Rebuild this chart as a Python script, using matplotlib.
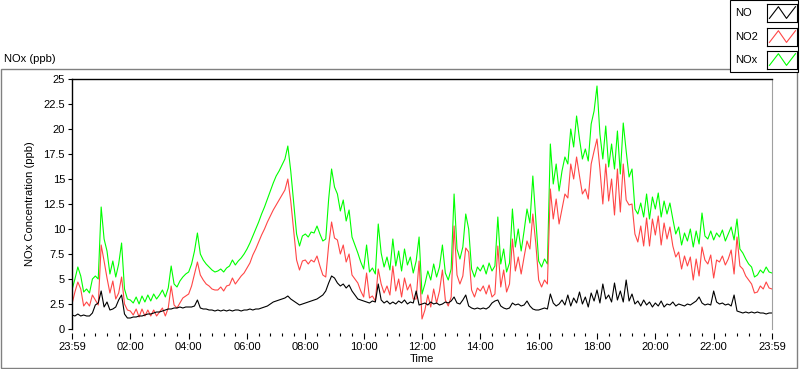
import numpy as np
import matplotlib.pyplot as plt
from matplotlib.patches import Rectangle

plt.rcParams['font.family'] = ['Liberation Sans', 'DejaVu Sans']
plt.rcParams['font.size'] = 8

# readings every 6 minutes, 23:59 -> 23:59 (ppb); one row per hour
no_ppb = [
    1.4, 1.3, 1.5, 1.3, 1.4, 1.3, 1.3, 1.6, 2.4, 2.6,
    3.8, 2.2, 2.7, 1.9, 2.0, 2.2, 2.9, 3.4, 1.5, 1.1,
    1.1, 1.2, 1.2, 1.3, 1.3, 1.4, 1.5, 1.5, 1.6, 1.7,
    1.7, 1.8, 1.9, 2.0, 2.0, 2.1, 2.1, 2.2, 2.1, 2.2,
    2.2, 2.2, 2.3, 2.9, 2.1, 2.0, 2.0, 1.9, 1.9, 1.8,
    1.9, 1.8, 1.9, 1.8, 1.9, 1.8, 1.9, 1.9, 1.8, 1.9,
    1.9, 2.0, 1.9, 2.0, 2.0, 2.1, 2.2, 2.3, 2.5, 2.7,
    2.8, 2.9, 3.0, 3.1, 3.3, 3.0, 2.8, 2.6, 2.4, 2.5,
    2.6, 2.7, 2.8, 2.9, 3.0, 3.2, 3.4, 3.8, 4.6, 5.3,
    5.1, 4.6, 4.3, 4.5, 4.1, 4.4, 3.8, 3.4, 3.0, 2.9,
    2.8, 2.7, 2.6, 2.8, 2.7, 4.5, 2.9, 2.6, 2.8, 2.5,
    2.7, 2.5, 2.8, 2.6, 2.9, 2.5, 2.7, 2.6, 3.8, 2.4,
    2.5, 2.6, 2.4, 2.7, 2.5, 2.6, 2.4, 2.5, 2.7, 2.6,
    2.8, 3.2, 2.6, 2.5, 2.9, 3.4, 2.3, 2.1, 2.0, 2.1,
    2.0, 2.1, 2.0, 2.2, 2.6, 2.8, 2.9, 2.3, 2.1, 2.0,
    2.1, 2.6, 2.4, 2.5, 2.3, 2.4, 2.8, 2.3, 2.0, 1.9,
    1.9, 2.0, 2.1, 2.0, 3.5, 2.6, 2.3, 2.5, 2.9, 2.4,
    3.4, 2.3, 3.1, 2.6, 3.7, 2.5, 3.2, 2.2, 3.6, 2.8,
    3.9, 2.6, 4.5, 3.0, 3.4, 2.7, 4.6, 2.9, 3.8, 2.7,
    4.9, 2.8, 3.5, 2.5, 2.8, 2.3, 2.9, 2.4, 2.7, 2.2,
    2.6, 2.3, 2.8, 2.2, 2.5, 2.4, 2.7, 2.3, 2.5, 2.4,
    2.3, 2.5, 2.4, 2.6, 2.8, 3.2, 2.6, 2.4, 2.5, 2.4,
    3.8, 2.7, 2.5, 2.6, 2.4, 2.5, 2.3, 3.4, 1.8, 1.7,
    1.6, 1.7, 1.6, 1.7, 1.6, 1.7, 1.6, 1.6, 1.5, 1.6,
    1.6,
]

no2_ppb = [
    2.5, 3.7, 4.7, 4.0, 2.3, 2.7, 2.3, 3.4, 2.9, 2.4,
    8.4, 6.8, 5.1, 3.6, 4.8, 3.0, 3.6, 5.2, 2.5, 1.9,
    1.8, 1.4, 2.0, 1.2, 2.0, 1.3, 1.9, 1.3, 1.9, 1.3,
    1.7, 2.1, 1.3, 2.1, 4.3, 2.4, 2.1, 2.6, 3.1, 3.3,
    3.5, 4.3, 5.5, 6.7, 5.4, 4.9, 4.5, 4.3, 4.0, 3.9,
    3.9, 4.2, 3.8, 4.3, 4.4, 5.1, 4.5, 4.9, 5.3, 5.6,
    6.1, 6.6, 7.4, 8.0, 8.7, 9.4, 10.0, 10.7, 11.3, 11.9,
    12.4, 12.9, 13.4, 13.9, 15.0, 12.8, 9.8, 6.9, 5.9, 6.8,
    6.9, 6.5, 6.9, 6.7, 7.3, 6.3, 5.4, 5.2, 8.4, 10.7,
    9.1, 8.9, 7.5, 8.4, 6.7, 7.5, 5.4, 5.0, 4.6, 3.8,
    3.2, 5.6, 3.1, 3.3, 2.8, 6.0, 4.5, 3.6, 4.3, 3.4,
    6.3, 3.8, 5.0, 3.2, 5.1, 3.9, 4.5, 3.0, 3.0, 6.8,
    1.0, 1.9, 3.4, 2.2, 4.0, 2.6, 3.8, 5.9, 2.9, 2.3,
    3.2, 10.3, 5.4, 4.5, 5.3, 8.1, 7.7, 3.9, 3.2, 4.1,
    3.8, 4.3, 3.5, 4.4, 3.2, 3.5, 8.3, 4.2, 5.9, 3.7,
    4.5, 9.0, 5.8, 7.2, 5.5, 7.2, 8.8, 8.0, 11.5, 8.6,
    4.9, 4.2, 4.9, 4.5, 14.0, 11.0, 13.0, 10.5, 12.0, 13.5,
    13.1, 16.5, 15.0, 17.2, 15.3, 13.5, 14.0, 13.0, 16.5, 17.8,
    19.0, 16.0, 12.5, 16.5, 12.8, 15.0, 11.4, 16.0, 11.7, 16.5,
    12.9, 12.4, 12.5, 9.5, 8.7, 10.3, 8.3, 11.1, 8.3, 11.0,
    9.4, 11.3, 8.4, 10.6, 9.0, 10.2, 8.3, 7.2, 7.7, 6.0,
    7.3, 6.3, 7.2, 4.9, 7.0, 5.3, 8.2, 6.9, 6.5, 7.4,
    5.1, 6.9, 6.7, 7.3, 6.4, 7.0, 7.9, 5.5, 9.2, 6.3,
    6.0, 5.3, 4.9, 4.5, 3.6, 3.7, 4.3, 4.0, 4.7, 4.1,
    4.0,
]

nox_ppb = [
    3.9, 5.0, 6.2, 5.3, 3.7, 4.0, 3.6, 5.0, 5.3, 5.0,
    12.2, 9.0, 7.8, 5.5, 6.8, 5.2, 6.5, 8.6, 4.0, 3.0,
    2.9, 2.6, 3.2, 2.5, 3.3, 2.7, 3.4, 2.8, 3.5, 3.0,
    3.4, 3.9, 3.2, 4.1, 6.3, 4.5, 4.2, 4.8, 5.2, 5.5,
    5.7, 6.5, 7.8, 9.6, 7.5, 6.9, 6.5, 6.2, 5.9, 5.7,
    5.8, 6.0, 5.7, 6.1, 6.3, 6.9, 6.4, 6.8, 7.1, 7.5,
    8.0, 8.6, 9.3, 10.0, 10.7, 11.5, 12.2, 13.0, 13.8, 14.6,
    15.3, 15.8, 16.4, 17.0, 18.3, 15.8, 12.7, 9.5, 8.3, 9.3,
    9.5, 9.2, 9.7, 9.6, 10.3, 9.5, 8.8, 9.0, 13.0, 16.0,
    14.2, 13.5, 11.8, 12.9, 10.8, 11.9, 9.2, 8.4, 7.6, 6.7,
    6.0, 8.4, 5.7, 6.1, 5.5, 10.5, 7.6, 6.2, 7.2, 5.9,
    9.0, 6.3, 7.8, 5.8, 8.0, 6.4, 7.2, 5.6, 6.8, 9.2,
    3.5, 4.5, 5.8, 4.9, 6.5, 5.2, 6.2, 8.4, 5.6, 4.9,
    6.0, 13.5, 8.0, 7.0, 8.2, 11.5, 10.0, 6.0, 5.2, 6.2,
    5.8, 6.4, 5.5, 6.6, 5.8, 6.3, 11.2, 6.5, 8.0, 5.7,
    6.6, 12.0, 8.2, 10.0, 7.8, 9.8, 12.0, 10.6, 15.3, 11.0,
    6.8, 6.2, 7.0, 6.5, 18.5, 14.5, 16.5, 13.8, 15.8, 17.2,
    16.5, 20.0, 18.2, 21.3, 19.0, 17.0, 18.0, 16.8, 20.5, 21.8,
    24.3, 19.5, 17.0, 20.3, 16.2, 18.5, 16.0, 19.8, 15.5, 20.6,
    17.8, 15.2, 16.0, 12.0, 11.5, 12.6, 11.2, 13.5, 11.0, 13.2,
    12.0, 13.6, 11.2, 12.8, 11.5, 12.6, 11.0, 9.5, 10.2, 8.4,
    9.6, 8.8, 10.0, 8.2, 9.8, 8.5, 11.6, 9.3, 9.0, 9.8,
    8.9, 9.6, 9.2, 9.9, 8.8, 9.5, 10.2, 8.9, 11.0, 8.0,
    7.6, 7.0, 6.5, 6.2, 5.2, 5.4, 5.9, 5.6, 6.2, 5.7,
    5.6,
]

hours = np.arange(len(no_ppb)) * 0.1
tick_hours = list(range(0, 25, 2))
tick_labels = ['23:59'] + [f'{h:02d}:00' for h in tick_hours[1:-1]] + ['23:59']
legend_names = ['NO', 'NO2', 'NOx']
colors = ['black', '#ff4646', '#00ff00']

W, H = 800, 369
fig = plt.figure(figsize=(W / 100, H / 100), dpi=100)


def fx(px):
    return px / W


def fy(py):
    return 1 - py / H


# outer panel
fig.add_artist(Rectangle((fx(1), fy(368)), fx(796), (368 - 69) / H,
                         transform=fig.transFigure, fill=False,
                         edgecolor='#808080', lw=1))
fig.text(fx(4), fy(59), 'NOx (ppb)', ha='left', va='center')

ax = fig.add_axes([fx(72), fy(329), fx(700), (329 - 79) / H])
ax.plot(hours, nox_ppb, color=colors[2], lw=0.8)
ax.plot(hours, no2_ppb, color=colors[1], lw=0.8)
ax.plot(hours, no_ppb, color=colors[0], lw=0.8)

ax.set_xlim(0, 24)
ax.set_ylim(0, 25)
ax.set_yticks(np.arange(0, 25.1, 2.5))
ax.set_yticklabels([f'{v:g}' for v in np.arange(0, 25.1, 2.5)])
ax.set_xticks(tick_hours)
ax.set_xticklabels(tick_labels)
ax.set_xticks(np.arange(0, 24.01, 0.4), minor=True)
ax.tick_params(axis='y', direction='out', length=3, width=0.8, pad=2)
ax.tick_params(axis='x', which='major', direction='out', length=4, width=0.8, pad=2)
ax.tick_params(axis='x', which='minor', direction='out', length=2.5, width=0.8)

ax.spines['top'].set_linewidth(1.0)
ax.spines['left'].set_linewidth(1.0)
ax.spines['right'].set_color('#a0a0a0')
ax.spines['bottom'].set_position(('outward', 3))
ax.spines['bottom'].set_visible(False)

ax.set_xlabel('Time', labelpad=2)
ax.set_ylabel('NOx Concentration (ppb)', labelpad=6)

# legend box
fig.add_artist(Rectangle((fx(730), fy(72)), fx(68), 72 / H,
                         transform=fig.transFigure, facecolor='white',
                         edgecolor='black', lw=0.8, zorder=3))
for name, col, yc in zip(legend_names, colors, [13, 37, 60]):
    fig.text(fx(735), fy(yc), name, ha='left', va='center', zorder=4)
    sw = fig.add_axes([fx(767), fy(yc + 9), fx(30), 18 / H], zorder=5)
    sw.plot([0.08, 0.38, 0.65, 0.95], [0.2, 0.85, 0.2, 0.85], color=col, lw=0.8)
    sw.set_xlim(0, 1)
    sw.set_ylim(0, 1)
    sw.set_xticks([])
    sw.set_yticks([])
    for s in sw.spines.values():
        s.set_linewidth(0.8)

fig.savefig('out.png', dpi=100)
